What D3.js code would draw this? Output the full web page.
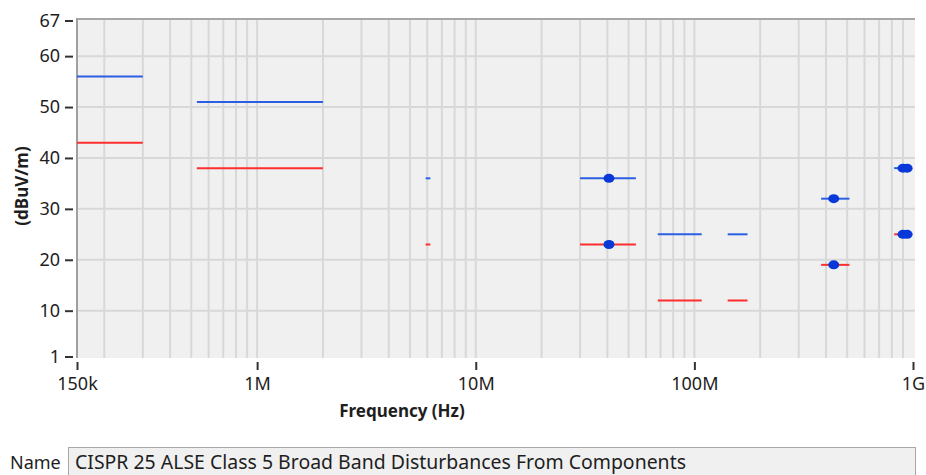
<!DOCTYPE html>
<html>
<head>
<meta charset="utf-8">
<script src="https://cdn.jsdelivr.net/npm/d3@7/dist/d3.min.js"></script>
<style>
  html, body { margin: 0; padding: 0; background: #ffffff; }
  svg { display: block; }
  text { font-family: "Noto Sans", "Open Sans", "DejaVu Sans", sans-serif; }
</style>
</head>
<body>
<svg id="chart" width="926" height="475"></svg>
<script>
// ---- Data ----
const segStart = [0.15e6, 0.53e6, 5.9e6, 30e6, 68e6, 142e6, 380e6, 820e6];
const segEnd   = [0.3e6,  2e6,    6.2e6, 54e6, 108e6, 175e6, 512e6, 960e6];
const peakLimit = [56, 51, 36, 36, 25, 25, 32, 38];   // blue
const qpLimit   = [43, 38, 23, 23, 12, 12, 19, 25];   // red
const markerFreq  = [40.68e6, 40.68e6, 433.92e6, 433.92e6, 900e6, 940e6, 900e6, 940e6];
const markerValue = [36, 23, 32, 19, 38, 38, 25, 25];
const xTickValues = [1.5e5, 1e6, 1e7, 1e8, 1e9];
const xTickLabels = ["150k", "1M", "10M", "100M", "1G"];
const yTickValues = [1, 10, 20, 30, 40, 50, 60, 67];
const yGridValues = [10, 20, 30, 40, 50, 60];
const xTitle = "Frequency (Hz)";
const yTitle = "(dBuV/m)";
const nameLabel = "Name";
const nameValue = "CISPR 25 ALSE Class 5 Broad Band Disturbances From Components";

// ---- Layout ----
const plot = { left: 77, top: 18, right: 915, bottom: 358 };
const svg = d3.select("#chart");

const x = d3.scaleLog().domain([1.5e5, 1e9]).range([77, 913]);
const y = d3.scaleLinear().domain([1, 67]).range([356.5, 20.5]);

// background
svg.append("rect")
  .attr("x", plot.left).attr("y", plot.top)
  .attr("width", plot.right - plot.left).attr("height", plot.bottom - plot.top)
  .attr("fill", "#f0f0f0");

// vertical grid lines at every 1..9 x decade
const xGrid = [];
for (let e = 5; e <= 8; e++) {
  for (let k = 1; k <= 9; k++) {
    const v = k * Math.pow(10, e);
    if (v > 1.5e5 && v < 1e9) xGrid.push(v);
  }
}
const g = svg.append("g");
g.selectAll("line.vg").data(xGrid).join("line")
  .attr("class", "vg")
  .attr("x1", d => x(d)).attr("x2", d => x(d))
  .attr("y1", plot.top).attr("y2", plot.bottom)
  .attr("stroke", "#d8d8d8").attr("stroke-width", 2);
g.selectAll("line.hg").data(yGridValues).join("line")
  .attr("class", "hg")
  .attr("x1", plot.left).attr("x2", plot.right)
  .attr("y1", d => y(d)).attr("y2", d => y(d))
  .attr("stroke", "#d8d8d8").attr("stroke-width", 2);

// frame: top and left
svg.append("line").attr("x1", plot.left - 1).attr("x2", plot.right)
  .attr("y1", plot.top + 1).attr("y2", plot.top + 1)
  .attr("stroke", "#a6a6a6").attr("stroke-width", 2);
svg.append("line").attr("x1", plot.left).attr("x2", plot.left)
  .attr("y1", plot.top).attr("y2", plot.bottom)
  .attr("stroke", "#a0a0a0").attr("stroke-width", 2);

// y axis
const yAxis = d3.axisLeft(y).tickValues(yTickValues).tickSize(8).tickPadding(5)
  .tickFormat(d3.format("d"));
const yAx = svg.append("g").attr("transform", `translate(${plot.left - 4},0)`).call(yAxis);
yAx.select(".domain").remove();
yAx.selectAll(".tick line").attr("stroke", "#333").attr("stroke-width", 2);
yAx.selectAll(".tick text").attr("font-size", 18).attr("fill", "#1e1e1e")
  .attr("font-family", "\"Noto Sans\", sans-serif");

// x axis
const xAxis = d3.axisBottom(x).tickValues(xTickValues).tickSize(8).tickPadding(7)
  .tickFormat((d, i) => xTickLabels[i]);
const xAx = svg.append("g").attr("transform", `translate(0,${plot.bottom + 4})`).call(xAxis);
xAx.select(".domain").remove();
xAx.selectAll(".tick line").attr("stroke", "#333").attr("stroke-width", 2);
xAx.selectAll(".tick text").attr("font-size", 18).attr("fill", "#1e1e1e")
  .attr("font-family", "\"Noto Sans\", sans-serif");

// titles
svg.append("text").attr("x", 402).attr("y", 417).attr("text-anchor", "middle")
  .attr("font-size", 17).attr("font-weight", "bold").attr("fill", "#1e1e1e").text(xTitle);
svg.append("text").attr("transform", "translate(28,186) rotate(-90)")
  .attr("text-anchor", "middle")
  .attr("font-size", 17).attr("font-weight", "bold").attr("fill", "#1e1e1e").text(yTitle);

// limit segments
const idx = d3.range(segStart.length);
svg.append("clipPath").attr("id", "pc").append("rect")
  .attr("x", plot.left).attr("y", plot.top)
  .attr("width", plot.right - plot.left).attr("height", plot.bottom - plot.top);
const data = svg.append("g").attr("clip-path", "url(#pc)");
data.selectAll("line.qp").data(idx).join("line")
  .attr("class", "qp")
  .attr("x1", i => x(segStart[i])).attr("x2", i => x(segEnd[i]))
  .attr("y1", i => y(qpLimit[i])).attr("y2", i => y(qpLimit[i]))
  .attr("stroke", "#ff2e2e").attr("stroke-width", 2);
data.selectAll("line.pk").data(idx).join("line")
  .attr("class", "pk")
  .attr("x1", i => x(segStart[i])).attr("x2", i => x(segEnd[i]))
  .attr("y1", i => y(peakLimit[i])).attr("y2", i => y(peakLimit[i]))
  .attr("stroke", "#2b5fe3").attr("stroke-width", 2);

// markers
data.selectAll("ellipse.mk").data(d3.range(markerFreq.length)).join("ellipse")
  .attr("class", "mk")
  .attr("cx", i => x(markerFreq[i])).attr("cy", i => y(markerValue[i]))
  .attr("rx", 5.5).attr("ry", 4.5)
  .attr("fill", "#0838d8");

// name box
svg.append("text").attr("x", 10).attr("y", 469).attr("font-size", 18)
  .attr("fill", "#1e1e1e").text(nameLabel);
svg.append("rect").attr("x", 68.5).attr("y", 447.5).attr("width", 847).attr("height", 40)
  .attr("fill", "#f0f0f0").attr("stroke", "#a8a8a8").attr("stroke-width", 1);
svg.append("text").attr("x", 75).attr("y", 469).attr("font-size", 19)
  .attr("fill", "#1e1e1e")
  .attr("textLength", 611).attr("lengthAdjust", "spacingAndGlyphs")
  .text(nameValue);
</script>
</body>
</html>
